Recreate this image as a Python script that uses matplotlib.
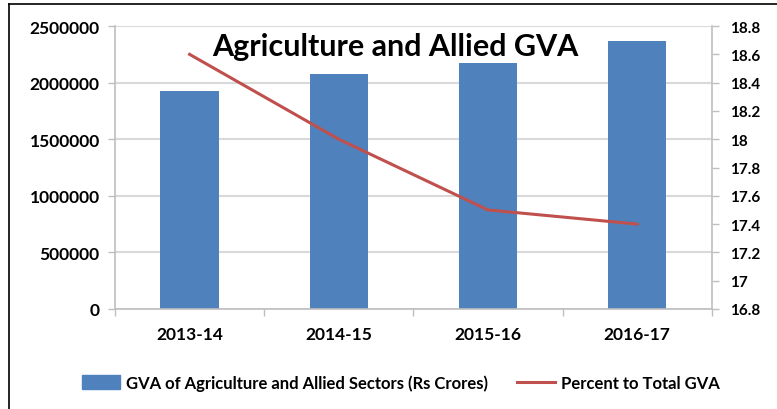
import matplotlib.pyplot as plt
from matplotlib.lines import Line2D
from matplotlib.patches import Patch
import numpy as np

years = ['2013-14', '2014-15', '2015-16', '2016-17']
gva = [1930000, 2075000, 2175000, 2370000]
pct = [18.6, 18.0, 17.5, 17.4]

left_ticks = [0, 500000, 1000000, 1500000, 2000000, 2500000]
right_ticks = [16.8, 17, 17.2, 17.4, 17.6, 17.8, 18, 18.2, 18.4, 18.6, 18.8]

plt.rcParams['font.family'] = ['Lato', 'DejaVu Sans']

bar_col = '#4F81BD'
line_col = '#C0504D'
axis_col = '#BFBFBF'

fig = plt.figure(figsize=(7.77, 4.10), dpi=100)
ax = fig.add_axes([0.148, 0.244, 0.768, 0.69])
x = np.arange(len(years))

ax.bar(x, gva, width=0.39, color=bar_col, zorder=2)
ax.set_xlim(-0.5, len(years) - 0.5)
ax.set_ylim(0, 2500000)
ax.set_yticks(left_ticks)
ax.set_yticklabels([str(v) for v in left_ticks], fontsize=12.5, fontweight='bold')
ax.set_xticks(x)
ax.set_xticklabels(years, fontsize=12.5, fontweight='bold')
ax.tick_params(axis='x', length=0, pad=12)
ax.set_xticks(np.arange(-0.5, len(years)), minor=True)
ax.tick_params(axis='x', which='minor', length=5, color=axis_col, width=1)
ax.tick_params(axis='y', length=5, color=axis_col, width=1, pad=6)
ax.yaxis.grid(True, color='#D9D9D9', linewidth=1.5, zorder=0)
ax.set_axisbelow(True)
for s in ['top', 'right']:
    ax.spines[s].set_visible(False)
for s in ['left', 'bottom']:
    ax.spines[s].set_color(axis_col)
    ax.spines[s].set_linewidth(1.2)

ax2 = ax.twinx()
ax2.plot(x, pct, color=line_col, linewidth=2.2, zorder=3)
ax2.set_ylim(16.8, 18.8)
ax2.set_yticks(right_ticks)
ax2.set_yticklabels(['%g' % v for v in right_ticks], fontsize=11, fontweight='bold')
ax2.tick_params(axis='y', length=5, color=axis_col, width=1, pad=8)
for s in ['top', 'left', 'bottom']:
    ax2.spines[s].set_visible(False)
ax2.spines['right'].set_color(axis_col)
ax2.spines['right'].set_linewidth(1.2)

ax.text(0.47, 0.93, 'Agriculture and Allied GVA', transform=ax.transAxes,
        ha='center', va='center', fontsize=22, fontweight='bold', zorder=5)

handles = [Patch(color=bar_col), Line2D([], [], color=line_col, linewidth=2.2)]
labels = ['GVA of Agriculture and Allied Sectors (Rs Crores)', 'Percent to Total GVA']
fig.legend(handles, labels, loc='center', bbox_to_anchor=(0.516, 0.064), ncol=2,
           frameon=False, prop={'size': 12, 'weight': 'bold'},
           handlelength=2.3, handleheight=0.9, columnspacing=1.7, handletextpad=0.36)

# frame edges of the original screenshot
fig.add_artist(Line2D([0.012, 1], [0.988, 0.988], color='black', linewidth=1.2))
fig.add_artist(Line2D([0.012, 0.012], [0, 0.988], color='black', linewidth=1.2))

fig.savefig('out.png', dpi=100)
